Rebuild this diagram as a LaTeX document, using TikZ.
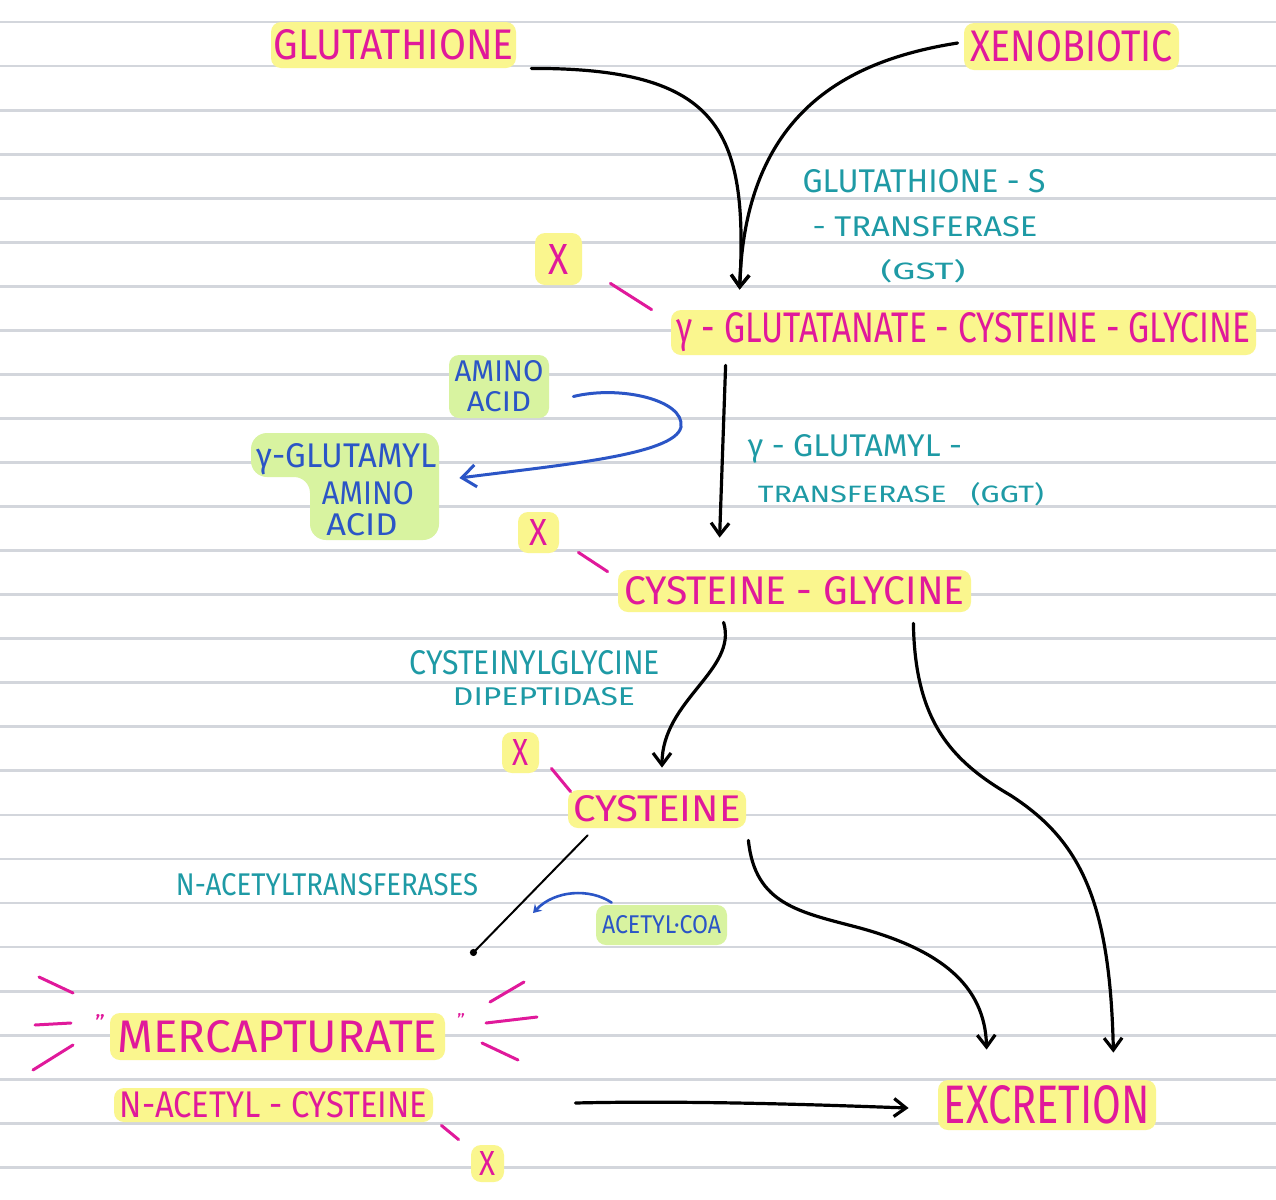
\documentclass[tikz,border=0pt]{standalone}
\usepackage{graphicx}
\usepackage{fontspec}
\setmainfont{Fira Sans}
\usetikzlibrary{arrows.meta,calc}
\definecolor{mag}{HTML}{E0199B}
\definecolor{teal2}{HTML}{1E9AA5}
\definecolor{blu2}{HTML}{2B55C6}
\definecolor{hlyel}{HTML}{FAF68E}
\definecolor{hlgrn}{HTML}{D8F3A0}
\definecolor{paperline}{HTML}{D3D6DC}
\newlength\pxu \setlength\pxu{0.5pt}
\newcommand\fitt[3]{\resizebox{#1\pxu}{#2\pxu}{#3}}
\begin{document}
\begin{tikzpicture}[x=0.5pt,y=-0.5pt,
  hly/.style 2 args={fill=hlyel, rounded corners=5pt, minimum width=#1\pxu, minimum height=#2\pxu, inner sep=0pt, text=mag},
  hlg/.style 2 args={fill=hlgrn, rounded corners=5pt, minimum width=#1\pxu, minimum height=#2\pxu, inner sep=0pt, text=blu2},
  tl/.style={inner sep=0pt, text=teal2},
  bl/.style={inner sep=0pt, text=blu2},
  ml/.style={inner sep=0pt, text=mag},
  paper/.style={draw=paperline, line width=1.4pt},
  blk/.style={draw=black, line width=1.6pt, line cap=round, -{Straight Barb[length=6pt,width=9pt,line width=1.6pt]}},
  blkthin/.style={draw=black, line width=1pt, line cap=round, -{Circle[length=3.5pt]}},
  blu/.style={draw=blu2, line width=1.5pt, line cap=round, -{Straight Barb[length=7pt,width=11pt,line width=1.5pt]}},
  bluS/.style={draw=blu2, line width=1.3pt, line cap=round, -{Stealth[length=4pt,width=5pt]}},
  pk/.style={draw=mag, line width=1.5pt, line cap=round}]
\fill[white] (0,0) rectangle (1276,1200);
\useasboundingbox (0,0) rectangle (1276,1200);
\foreach \k in {0,...,26} \draw[paper] (0,{22+44.05*\k}) -- (1276,{22+44.05*\k});

% top row
\node[hly={245}{46}] (glut) at (393.5,45) {\fitt{240}{30}{GLUTATHIONE}};
\node[hly={215}{47}] (xeno) at (1071.5,46.5) {\fitt{202}{31}{XENOBIOTIC}};

\node[tl] (gst1) at (924,181) {\fitt{243}{23}{GLUTATHIONE - S}};
\node[tl] (gst2) at (925,227) {\fitt{225}{20}{- TRANSFERASE}};
\node[tl] (gst3) at (923,271) {\fitt{85}{20}{(GST)}};

\node[hly={47}{52}] (x1) at (558.5,259) {\fitt{20}{30}{X}};
\node[hly={585}{45}] (ggc) at (963.5,332.5) {\fitt{573}{30}{γ - GLUTATANATE - CYSTEINE - GLYCINE}};

% amino acids
\node[hlg={100}{63}, align=center, font=\fontsize{10pt}{15pt}\selectfont] (aa) at (499,386.5) {\fitt{89}{21}{AMINO}\\\fitt{64}{20}{ACID}};
\fill[hlgrn, rounded corners=8pt] (251,433) -- (439,433) -- (439,540) -- (310,540) -- (310,477) -- (251,477) -- cycle;
\node[bl] (gaa) at (347,459) {\fitt{180}{24}{γ-GLUTAMYL}};
\node[bl] (gaa2) at (368,493) {\fitt{92}{23}{AMINO}};
\node[bl] (gaa3) at (362,525) {\fitt{71}{22}{ACID}};

\node[tl] (ggt1) at (855,449) {\fitt{214}{22}{γ - GLUTAMYL -}};
\node[tl] (ggt2) at (901,494) {\fitt{286}{20}{TRANSFERASE\ \ \ (GGT)}};

\node[hly={41}{41}] (x2) at (538.5,532.5) {\fitt{18}{26}{X}};
\node[hly={353}{42}] (cg) at (794.5,591) {\fitt{340}{28}{CYSTEINE - GLYCINE}};

\node[tl] (dip1) at (535,663) {\fitt{250}{24}{CYSTEINYLGLYCINE}};
\node[tl] (dip2) at (544,697) {\fitt{182}{18}{DIPEPTIDASE}};

\node[hly={37}{41}] (x3) at (520.5,752.5) {\fitt{16}{26}{X}};
\node[hly={178}{38}] (cys) at (657,809) {\fitt{167}{26}{CYSTEINE}};

\node[tl] (nat) at (327,885) {\fitt{302}{22}{N-ACETYLTRANSFERASES}};
\node[hlg={131}{40}] (acoa) at (661.5,925) {\fitt{119}{18}{ACETYL·COA}};

\node[hly={335}{47}] (merc) at (277.5,1036.5) {\fitt{320}{32}{MERCAPTURATE}};
\node[ml] (qo) at (100,1022) {\fitt{10}{16}{"}};
\node[ml] (qc) at (461,1020) {\fitt{8}{13}{"}};
\node[hly={319}{34}] (nac) at (273.5,1105) {\fitt{307}{26}{N-ACETYL - CYSTEINE}};
\node[hly={33}{37}] (x4) at (487.5,1163.5) {\fitt{16}{24}{X}};
\node[hly={218}{50}] (exc) at (1047,1105) {\fitt{206}{38}{EXCRETION}};

% burst
\draw[pk] (39,977) -- (73,993);
\draw[pk] (35,1025) -- (71,1023);
\draw[pk] (33,1070) -- (73,1045);
\draw[pk] (490,1002) -- (524,982);
\draw[pk] (486,1023) -- (537,1017);
\draw[pk] (482,1043) -- (518,1060);

% bonds
\draw[pk] ($(x1.south east)+(28,-2)$) -- ($(ggc.north west)+(-19,0)$);
\draw[pk] ($(x2.south east)+(19,-1)$) -- ($(cg.north west)+(-10,2)$);
\draw[pk] ($(x3.south east)+(12,-5)$) -- ($(cys.north west)+(3,2)$);
\draw[pk] ($(nac.south east)+(8,3)$) -- ($(x4.north west)+(-12,-5)$);

% arrows
\draw[blk] ($(glut.south east)+(15,0)$) .. controls (720,68) and (748,130) .. ($(ggc.north west)+(69,-20)$);
\draw[blk] ($(xeno.west)+(-6,-3.5)$) .. controls (850,60) and (745,110) .. ($(ggc.north west)+(69,-20)$);
\draw[blk] ($(ggc.south west)+(55,10)$) -- ($(cg.north west)+(102,-32)$);
\draw[blu] ($(aa.east)+(24,10)$) .. controls (620,385) and (685,400) .. (681,427) .. controls (675,455) and (560,465) .. ($(gaa2.east)+(45,-15)$);
\draw[blk] ($(cg.south west)+(106,10)$) .. controls (738,670) and (662,700) .. ($(cys.north)+(5,-22)$);
\draw[blk] ($(cg.south east)+(-58,11)$) .. controls (915,720) and (950,760) .. (1010,795) .. controls (1080,840) and (1110,900) .. ($(exc.north east)+(-43,-27)$);
\draw[blk] ($(cys.south east)+(2,12)$) .. controls (755,905) and (800,912) .. (860,928) .. controls (940,950) and (985,985) .. ($(exc.north west)+(49,-30)$);
\coordinate (natTip) at (471,955);
\draw[blkthin] ($(cys.south west)+(20,7)$) -- (natTip);
\coordinate (acTip) at (533,913);
\draw[bluS] ($(acoa.north west)+(16,-2)$) .. controls (590,888) and (555,890) .. (acTip);
\draw[blk] ($(nac.east)+(142,-2)$) .. controls (700,1100) and (850,1106) .. ($(exc.west)+(-29,3)$);
\end{tikzpicture}
\end{document}
